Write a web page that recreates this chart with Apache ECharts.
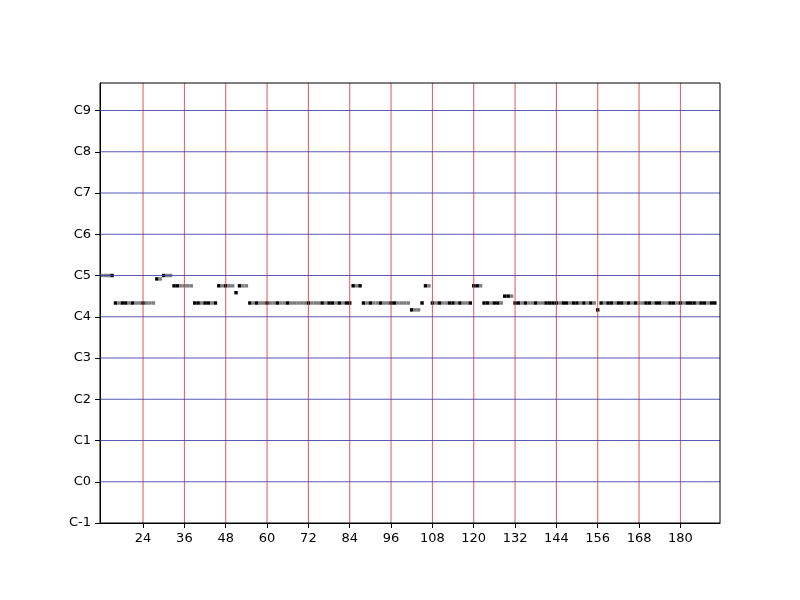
<!DOCTYPE html>
<html>
<head>
<meta charset="utf-8">
<script src="https://cdn.jsdelivr.net/npm/echarts@6/dist/echarts.min.js"></script>
<style>html,body{margin:0;padding:0;background:#fff}#c{width:800px;height:600px}</style>
</head>
<body>
<div id="c"></div>
<script>
// Piano-roll data: per pitch, runs of [startTimestep, shades] where k = black (loud), g = gray (soft)
const notesC5 = [[12, 'gggk'], [30, 'kgg']];            // pitch 72
const notesB4 = [[28, 'kg']];                             // pitch 71
const notesA4 = [[33, 'kkgggg'], [46, 'kgkgg'], [52, 'kgg'], [85, 'kgk'], [106, 'kg'], [120, 'kkg']]; // 69
const notesG4 = [[51, 'k']];                              // pitch 67
const notesFs4 = [[129, 'kkg']];                          // pitch 66
const notesE4 = [                                         // pitch 64
  [16, 'kgkkgkggkggg'],
  [39, 'kkgkkgk'],
  [55, 'kgkggkggkggkgggggkgggkgkkgkgkk'],
  [88, 'kgkggkggkkgggg'],
  [105, 'k'],
  [108, 'kgkggkkgkggk'],
  [123, 'kkgkkg'],
  [132, 'kkgkggkggkkkkgkkgkkgkgkg'],
  [157, 'kgkkgkkgkgkggkkgkkggkkgkgkkkgkkgkk']
];
const notesD4 = [[102, 'kgg'], [156, 'k']];               // pitch 62

const pitchRows = [[72, notesC5], [71, notesB4], [69, notesA4], [67, notesG4], [66, notesFs4], [64, notesE4], [62, notesD4]];
const shadeVelocity = { k: 127, g: 64 };

const xTicks = [24, 36, 48, 60, 72, 84, 96, 108, 120, 132, 144, 156, 168, 180];
const yTicks = [0, 12, 24, 36, 48, 60, 72, 84, 96, 108, 120];
const yTickNames = ['C-1', 'C0', 'C1', 'C2', 'C3', 'C4', 'C5', 'C6', 'C7', 'C8', 'C9'];

const cells = [];
pitchRows.forEach(([pitch, runs]) => {
  runs.forEach(([start, shades]) => {
    for (let i = 0; i < shades.length; i++) {
      cells.push([start + i, pitch, shadeVelocity[shades[i]]]);
    }
  });
});

const gridData = [];
xTicks.forEach(v => gridData.push([v, 0, 0]));
yTicks.filter(v => v > 0).forEach(v => gridData.push([v, 0, 1]));

const chart = echarts.init(document.getElementById('c'), null, { renderer: 'canvas' });
const labelFont = { color: '#000', fontSize: 13, fontFamily: 'DejaVu Sans' };

chart.setOption({
  animation: false,
  backgroundColor: '#fff',
  grid: { left: 100, right: 80, top: 83, bottom: 77, show: true, borderColor: '#000', borderWidth: 1, backgroundColor: 'transparent', z: 20 },
  xAxis: {
    type: 'value', min: 11.5, max: 191.5,
    axisLine: { show: true, lineStyle: { color: '#000', width: 1 } },
    axisTick: { show: true, length: 5, lineStyle: { color: '#000' }, customValues: xTicks },
    axisLabel: Object.assign({ margin: 9, customValues: xTicks }, labelFont),
    splitLine: { show: false }
  },
  yAxis: {
    type: 'value', min: 0, max: 128,
    axisLine: { show: true, lineStyle: { color: '#000', width: 1 } },
    axisTick: { show: true, length: 5, lineStyle: { color: '#000' }, customValues: yTicks },
    axisLabel: Object.assign({
      margin: 9, customValues: yTicks,
      formatter: v => yTickNames[yTicks.indexOf(v)]
    }, labelFont),
    splitLine: { show: false }
  },
  series: [
    {
      type: 'custom',
      z: 2,
      data: cells,
      encode: { x: 0, y: 1 },
      renderItem: function (params, api) {
        const t = api.value(0), p = api.value(1), vel = api.value(2);
        const a = api.coord([t - 0.5, p + 0.5]);
        const b = api.coord([t + 0.5, p - 0.5]);
        const g = Math.round(255 * (1 - vel / 127));
        return {
          type: 'rect',
          shape: { x: a[0], y: a[1], width: b[0] - a[0], height: b[1] - a[1] },
          style: { fill: 'rgb(' + g + ',' + g + ',' + g + ')' }
        };
      }
    },
    {
      type: 'custom',
      z: 5,
      silent: true,
      data: gridData,
      encode: { x: 0, y: 1 },
      renderItem: function (params, api) {
        const v = api.value(0), kind = api.value(2);
        let p1, p2;
        if (kind === 0) {
          p1 = api.coord([v, 0]); p2 = api.coord([v, 128]);
          return {
            type: 'line',
            shape: { x1: p1[0], y1: p1[1], x2: p2[0], y2: p2[1] },
            style: { stroke: '#d84444', lineWidth: 0.9 }
          };
        }
        p1 = api.coord([11.5, v]); p2 = api.coord([191.5, v]);
        return {
          type: 'line',
          shape: { x1: p1[0], y1: p1[1], x2: p2[0], y2: p2[1] },
          style: { stroke: '#4646ae', lineWidth: 0.9 }
        };
      }
    }
  ]
});
</script>
</body>
</html>
